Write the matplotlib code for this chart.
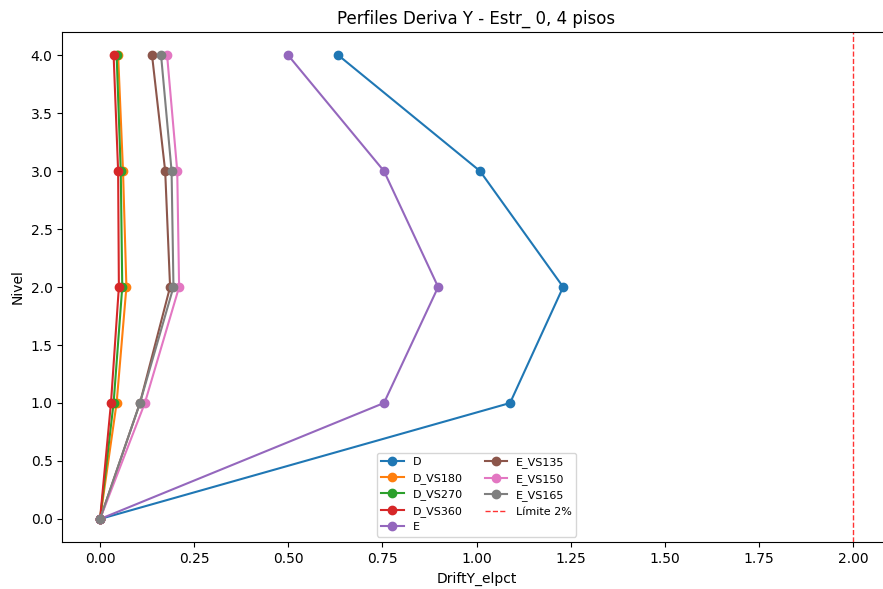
import matplotlib
matplotlib.use('Agg')
import matplotlib.pyplot as plt

niveles = [0, 1, 2, 3, 4]

## drift profiles per record (DriftY_elpct)
D = [0.0, 1.089, 1.230, 1.009, 0.632]
D_VS180 = [0.0, 0.044, 0.070, 0.061, 0.048]
D_VS270 = [0.0, 0.036, 0.059, 0.055, 0.044]
D_VS360 = [0.0, 0.029, 0.050, 0.048, 0.036]
E = [0.0, 0.754, 0.898, 0.754, 0.499]
E_VS135 = [0.0, 0.106, 0.186, 0.173, 0.138]
E_VS150 = [0.0, 0.119, 0.210, 0.205, 0.178]
E_VS165 = [0.0, 0.106, 0.195, 0.190, 0.162]

series = [("D", D), ("D_VS180", D_VS180), ("D_VS270", D_VS270), ("D_VS360", D_VS360),
          ("E", E), ("E_VS135", E_VS135), ("E_VS150", E_VS150), ("E_VS165", E_VS165)]
limite = 2.0

fig = plt.figure(figsize=(8.83, 5.89), dpi=100)
ax = fig.add_axes([62.4/883, 46.8/589, 828.3/883, 510.4/589])

for name, vals in series:
    ax.plot(vals, niveles, marker='o', label=name)
ax.axvline(limite, color='red', ls='--', lw=1, alpha=0.8, label='Límite 2%')

ax.set_xlim(-0.1, 2.1)
ax.set_ylim(-0.2, 4.2)
ax.set_xlabel('DriftY_elpct')
ax.set_ylabel('Nivel')
ax.set_title('Perfiles Deriva Y - Estr_ 0, 4 pisos')
ax.legend(loc='lower center', ncol=2, fontsize=8)

fig.savefig("out.png", dpi=100)
